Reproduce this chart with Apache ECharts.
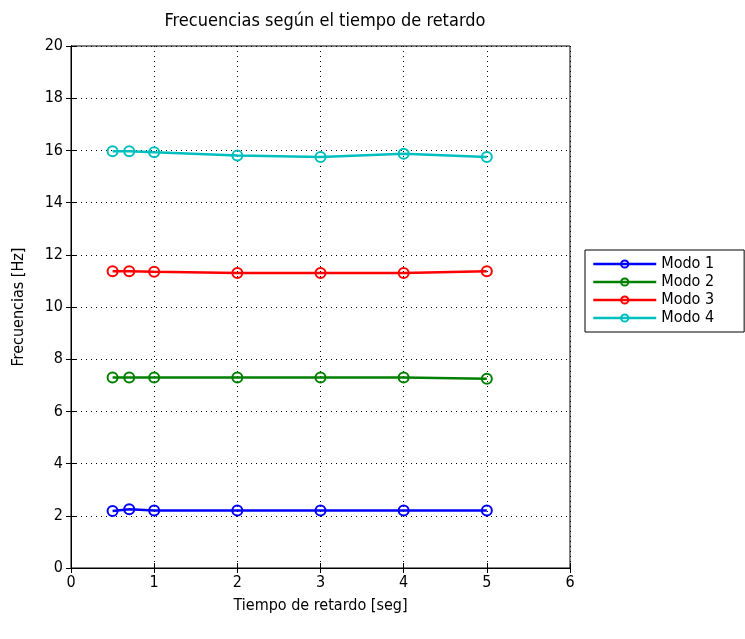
<!DOCTYPE html>
<html>
<head>
<meta charset="utf-8">
<script src="https://cdn.jsdelivr.net/npm/echarts@6/dist/echarts.min.js"></script>
<style>
  html, body { margin: 0; padding: 0; background: #fff; overflow: hidden; }
  #chart { width: 745px; height: 639px; }
</style>
</head>
<body>
<div id="chart"></div>
<script>
// Delay times (s) and the modal frequencies (Hz) measured at each one
const delays = [0.5, 0.7, 1, 2, 3, 4, 5];
const modo1 = [2.18, 2.25, 2.2, 2.2, 2.2, 2.2, 2.2];
const modo2 = [7.3, 7.3, 7.3, 7.3, 7.3, 7.3, 7.25];
const modo3 = [11.37, 11.37, 11.35, 11.3, 11.3, 11.3, 11.37];
const modo4 = [15.97, 15.97, 15.93, 15.8, 15.75, 15.87, 15.75];
const seriesNames = ['Modo 1', 'Modo 2', 'Modo 3', 'Modo 4'];
const seriesColors = ['#0000ff', '#008000', '#ff0000', '#00bfbf'];
const xTicks = [0, 1, 2, 3, 4, 5, 6];
const yTicks = [0, 2, 4, 6, 8, 10, 12, 14, 16, 18, 20];

const FONT = '"Liberation Sans Narrow", "DejaVu Sans Condensed", "Liberation Sans", sans-serif';
const values = [modo1, modo2, modo3, modo4];

const chart = echarts.init(document.getElementById('chart'), null, { renderer: 'canvas' });

const dotted = { show: true, lineStyle: { color: '#000', type: [1, 4], width: 1 } };

function makeSeries(i) {
  return {
    name: seriesNames[i],
    type: 'line',
    data: delays.map((x, k) => [x, values[i][k]]),
    xAxisIndex: 0,
    yAxisIndex: 0,
    symbol: 'circle',
    symbolSize: 10,
    showSymbol: true,
    lineStyle: { color: seriesColors[i], width: 2.5 },
    itemStyle: { color: 'rgba(255,255,255,0)', borderColor: seriesColors[i], borderWidth: 2 },
    emphasis: { disabled: true },
    z: 5
  };
}

chart.setOption({
  animation: false,
  backgroundColor: '#fff',
  title: {
    text: 'Frecuencias según el tiempo de retardo',
    left: 320, top: 7, textAlign: 'center',
    textStyle: { fontFamily: FONT, fontSize: 18, fontWeight: 'normal', color: '#000' }
  },
  legend: {
    orient: 'vertical',
    left: 585, top: 250,
    padding: [5, 30, 5, 7],
    itemWidth: 63, itemHeight: 9, itemGap: 0,
    borderColor: '#000', borderWidth: 1,
    backgroundColor: '#fff',
    lineStyle: { width: 2.5 },
    data: seriesNames,
    textStyle: { fontFamily: FONT, fontSize: 16, color: '#000', lineHeight: 18 }
  },
  grid: {
    left: 71, right: 175, top: 46, bottom: 71,
    show: true, borderColor: '#000', borderWidth: 1, backgroundColor: 'transparent'
  },
  xAxis: [
    {
      type: 'value', min: xTicks[0], max: xTicks[xTicks.length - 1], interval: 1,
      name: 'Tiempo de retardo [seg]', nameLocation: 'middle', nameGap: 30,
      nameTextStyle: { fontFamily: FONT, fontSize: 16, color: '#000' },
      axisLine: { show: true, lineStyle: { color: '#000', width: 1 } },
      axisTick: { show: true, inside: true, length: 5, lineStyle: { color: '#000' } },
      axisLabel: { fontFamily: FONT, fontSize: 16, color: '#000', margin: 7 },
      splitLine: dotted
    },
    {
      type: 'value', position: 'top', min: xTicks[0], max: xTicks[xTicks.length - 1], interval: 1,
      axisLine: { show: true, lineStyle: { color: '#000' } },
      axisTick: { show: true, inside: true, length: 5, lineStyle: { color: '#000' } },
      axisLabel: { show: false }, splitLine: { show: false }
    }
  ],
  yAxis: [
    {
      type: 'value', min: yTicks[0], max: yTicks[yTicks.length - 1], interval: 2,
      name: 'Frecuencias [Hz]', nameLocation: 'middle', nameGap: 44, nameRotate: 90,
      nameTextStyle: { fontFamily: FONT, fontSize: 16, color: '#000' },
      axisLine: { show: true, lineStyle: { color: '#000', width: 1 } },
      axisTick: { show: true, inside: true, length: 5, lineStyle: { color: '#000' } },
      axisLabel: { fontFamily: FONT, fontSize: 16, color: '#000', margin: 8 },
      splitLine: dotted
    },
    {
      type: 'value', position: 'right', min: yTicks[0], max: yTicks[yTicks.length - 1], interval: 2,
      axisLine: { show: true, lineStyle: { color: '#000' } },
      axisTick: { show: true, inside: true, length: 5, lineStyle: { color: '#000' } },
      axisLabel: { show: false }, splitLine: { show: false }
    }
  ],
  series: [0, 1, 2, 3].map(makeSeries)
});
</script>
</body>
</html>
